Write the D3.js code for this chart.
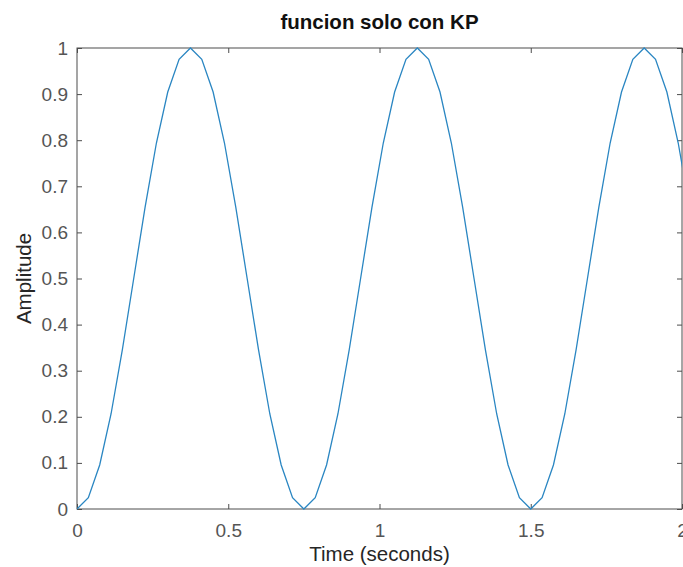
<!DOCTYPE html>
<html>
<head>
<meta charset="utf-8">
<script src="https://cdn.jsdelivr.net/npm/d3@7"></script>
<style>
  body { margin: 0; background: #fff; }
  svg { display: block; font-family: "Liberation Sans", Arial, sans-serif; }
</style>
</head>
<body>
<svg width="683" height="567"></svg>
<script>
var times = [0, 0.0375, 0.075, 0.1125, 0.15, 0.1875, 0.225, 0.2625, 0.3, 0.3375,
  0.375, 0.4125, 0.45, 0.4875, 0.525, 0.5625, 0.6, 0.6375, 0.675, 0.7125,
  0.75, 0.7875, 0.825, 0.8625, 0.9, 0.9375, 0.975, 1.0125, 1.05, 1.0875,
  1.125, 1.1625, 1.2, 1.2375, 1.275, 1.3125, 1.35, 1.3875, 1.425, 1.4625,
  1.5, 1.5375, 1.575, 1.6125, 1.65, 1.6875, 1.725, 1.7625, 1.8, 1.8375,
  1.875, 1.9125, 1.95, 1.9875, 2.025];
var amplitude = [0, 0.0245, 0.0955, 0.2061, 0.3455, 0.5, 0.6545, 0.7939, 0.9045, 0.9755,
  1, 0.9755, 0.9045, 0.7939, 0.6545, 0.5, 0.3455, 0.2061, 0.0955, 0.0245,
  0, 0.0245, 0.0955, 0.2061, 0.3455, 0.5, 0.6545, 0.7939, 0.9045, 0.9755,
  1, 0.9755, 0.9045, 0.7939, 0.6545, 0.5, 0.3455, 0.2061, 0.0955, 0.0245,
  0, 0.0245, 0.0955, 0.2061, 0.3455, 0.5, 0.6545, 0.7939, 0.9045, 0.9755,
  1, 0.9755, 0.9045, 0.7939, 0.6545];
var xTicks = [0, 0.5, 1, 1.5, 2];
var yTicks = [0, 0.1, 0.2, 0.3, 0.4, 0.5, 0.6, 0.7, 0.8, 0.9, 1];

var plotLeft = 77, plotRight = 682, plotTop = 48, plotBottom = 509;

var svg = d3.select('svg');

var xScale = d3.scaleLinear().domain([0, 2]).range([plotLeft, plotRight]);
var yScale = d3.scaleLinear().domain([0, 1]).range([plotBottom, plotTop]);

var axisColor = '#4d4d4d';

svg.append('clipPath')
  .attr('id', 'plotclip')
  .append('rect')
  .attr('x', plotLeft)
  .attr('y', plotTop - 2)
  .attr('width', plotRight - plotLeft)
  .attr('height', plotBottom - plotTop + 4);

// ticks on all four sides, pointing in
var xAxis = d3.axisBottom(xScale).tickValues(xTicks).tickFormat(d3.format('')).tickSizeInner(-5).tickSizeOuter(0).tickPadding(15);
var xAxisTop = d3.axisTop(xScale).tickValues(xTicks).tickFormat('').tickSizeInner(-5).tickSizeOuter(0);
var yAxis = d3.axisLeft(yScale).tickValues(yTicks).tickFormat(d3.format('')).tickSizeInner(-5).tickSizeOuter(0).tickPadding(9);
var yAxisRight = d3.axisRight(yScale).tickValues(yTicks).tickFormat('').tickSizeInner(-5).tickSizeOuter(0);

function styleAxis(g) {
  g.select('.domain').remove();
  g.selectAll('line').attr('stroke', axisColor);
  g.selectAll('text').attr('fill', '#555').style('font-size', '19px');
}

svg.append('g').attr('transform', 'translate(0,' + plotBottom + ')').call(xAxis).call(styleAxis);
svg.append('g').attr('transform', 'translate(0,' + plotTop + ')').call(xAxisTop).call(styleAxis);
svg.append('g').attr('transform', 'translate(' + plotLeft + ',0)').call(yAxis).call(styleAxis);
svg.append('g').attr('transform', 'translate(' + plotRight + ',0)').call(yAxisRight).call(styleAxis);

svg.append('rect')
  .attr('x', plotLeft)
  .attr('y', plotTop)
  .attr('width', plotRight - plotLeft)
  .attr('height', plotBottom - plotTop)
  .attr('fill', 'none')
  .attr('stroke', axisColor)
  .attr('stroke-width', 1);

var line = d3.line()
  .x((d, i) => xScale(times[i]))
  .y(d => yScale(d));

svg.append('path')
  .datum(amplitude)
  .attr('clip-path', 'url(#plotclip)')
  .attr('d', line)
  .attr('fill', 'none')
  .attr('stroke', '#2a86c2')
  .attr('stroke-width', 1.3)
  .attr('stroke-linejoin', 'miter');

svg.append('text')
  .attr('x', (plotLeft + plotRight) / 2)
  .attr('y', 29)
  .style('text-anchor', 'middle')
  .style('font-size', '20.5px')
  .style('font-weight', 'bold')
  .attr('fill', '#111')
  .text('funcion solo con KP');

svg.append('text')
  .attr('x', (plotLeft + plotRight) / 2)
  .attr('y', 561)
  .style('text-anchor', 'middle')
  .style('font-size', '20.5px')
  .attr('fill', '#262626')
  .text('Time (seconds)');

svg.append('text')
  .attr('transform', 'rotate(-90)')
  .attr('x', -(plotTop + plotBottom) / 2)
  .attr('y', 31)
  .style('text-anchor', 'middle')
  .style('font-size', '20.5px')
  .attr('fill', '#262626')
  .text('Amplitude');
</script>
</body>
</html>
